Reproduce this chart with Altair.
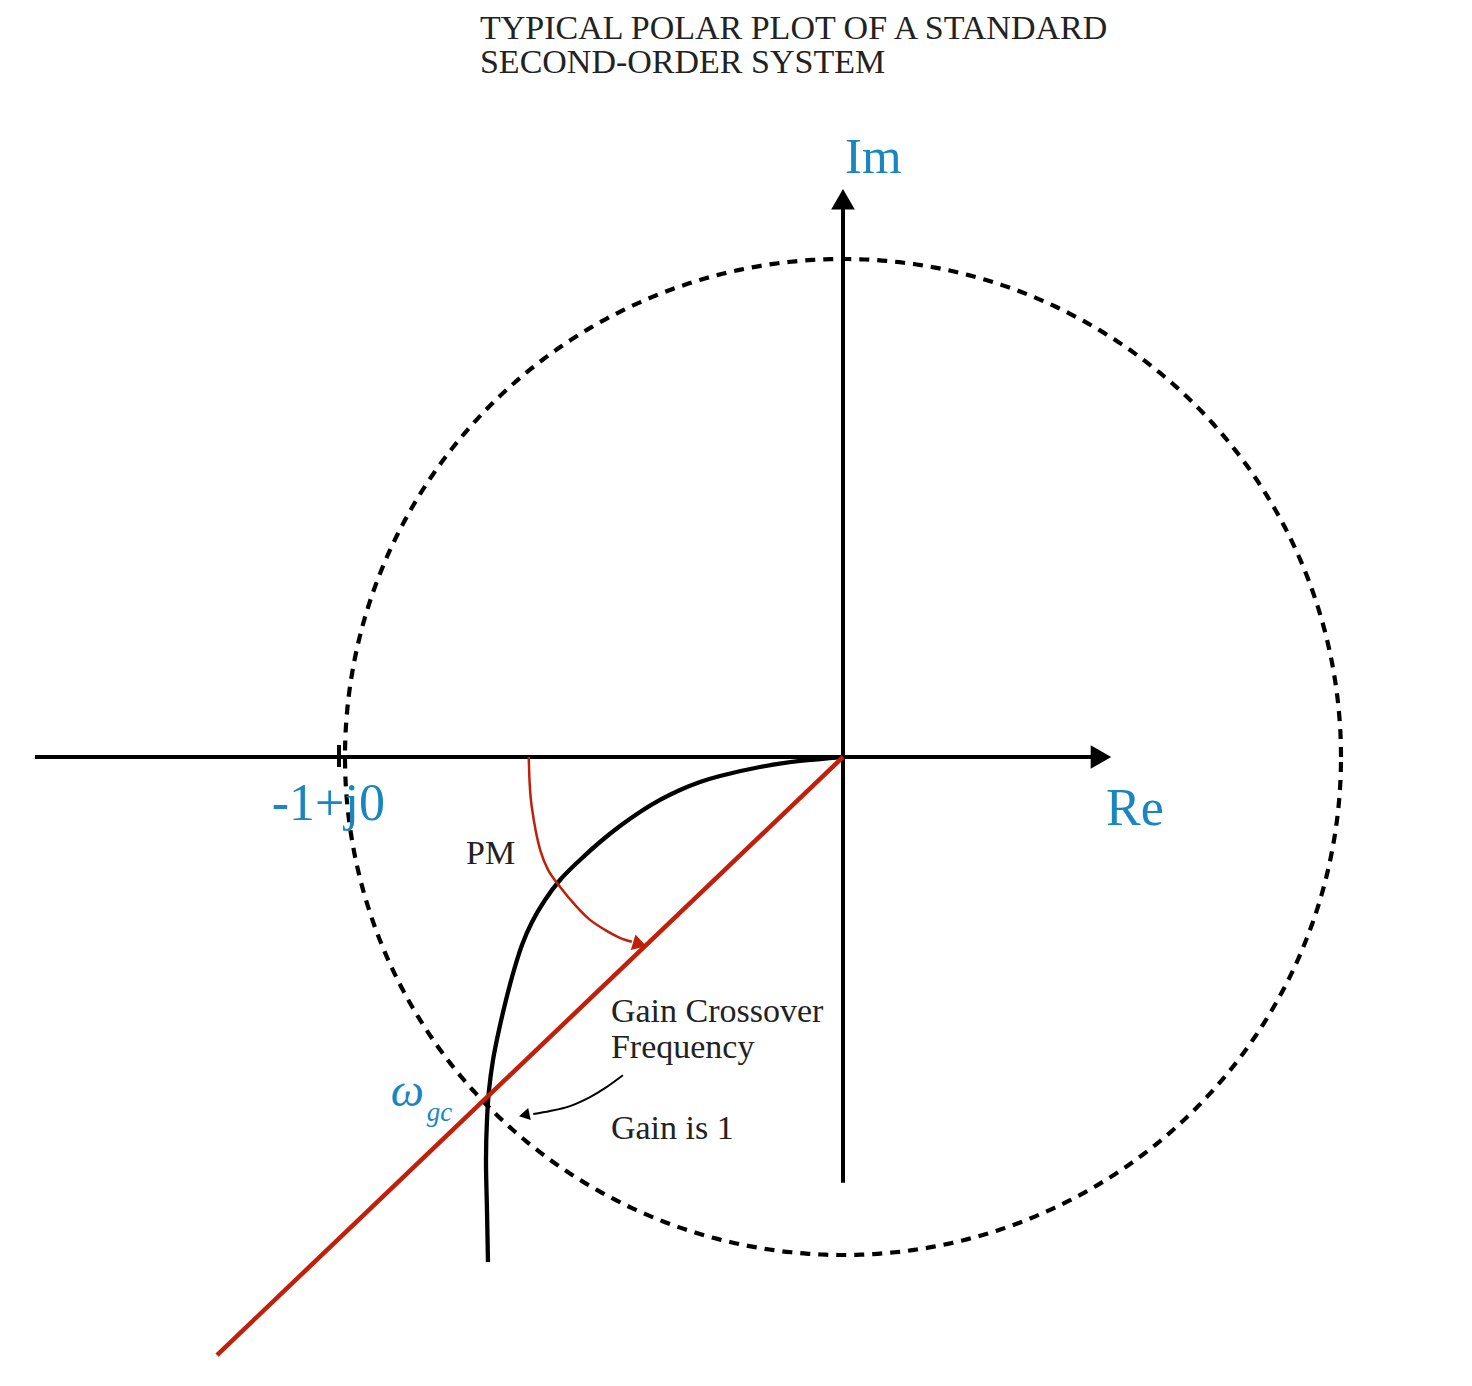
import altair as alt
import numpy as np
import pandas as pd

# ---- data (units: 1 = unit-gain circle radius) ----
curve_re = [0.0, -0.0863, -0.1667, -0.2470, -0.2871, -0.3273, -0.3675, -0.4076, -0.4478,
            -0.4880, -0.5281, -0.5683, -0.5984, -0.6245, -0.6446, -0.6606, -0.6767, -0.6908,
            -0.7028, -0.7108, -0.7149, -0.7169, -0.7149, -0.7129]
curve_im = [0.0, -0.0080, -0.0201, -0.0382, -0.0502, -0.0663, -0.0863, -0.1104, -0.1386,
            -0.1707, -0.2068, -0.2470, -0.2871, -0.3313, -0.3775, -0.4277, -0.4880, -0.5482,
            -0.6084, -0.6687, -0.7289, -0.8092, -0.9096, -1.0141]

pm_line_re = [0.0, -1.257]
pm_line_im = [0.0, -1.201]

pm_arc_re = [-0.631, -0.629, -0.625, -0.608, -0.592, -0.568, -0.538, -0.508, -0.478, -0.448, -0.424]
pm_arc_im = [0.0, -0.056, -0.100, -0.187, -0.227, -0.261, -0.297, -0.327, -0.347, -0.363, -0.371]

gc_arrow_re = [-0.442, -0.478, -0.508, -0.548, -0.588, -0.622]
gc_arrow_im = [-0.639, -0.665, -0.683, -0.701, -0.711, -0.717]

re_axis = [-1.6225, 0.505]
im_axis = [-0.855, 1.115]

X_DOMAIN = [-835 / 498, 621 / 498]
Y_DOMAIN = [-621 / 498, 749 / 498]

BLUE = "#1a86c0"
RED = "#c0200a"
FONT = "Liberation Serif"

xs = alt.Scale(domain=X_DOMAIN, nice=False, zero=False)
ys = alt.Scale(domain=Y_DOMAIN, nice=False, zero=False)


def X(f="x"):
    return alt.X(f"{f}:Q", scale=xs, axis=None)


def Y(f="y"):
    return alt.Y(f"{f}:Q", scale=ys, axis=None)


def path_df(xv, yv):
    return pd.DataFrame({"x": xv, "y": yv, "i": range(len(xv))})


def line_layer(df, color, width, dash=None, interp="linear"):
    kw = dict(color=color, strokeWidth=width, strokeCap="butt", interpolate=interp)
    if dash:
        kw["strokeDash"] = dash
    return alt.Chart(df).mark_line(**kw).encode(x=X(), y=Y(), order="i:Q")


# unit circle |G| = 1
th = np.linspace(0, 2 * np.pi, 721)
circle = line_layer(path_df(np.cos(th), np.sin(th)), "black", 4.2, [10, 8])

re_ax = line_layer(path_df(re_axis, [0, 0]), "black", 4)
im_ax = line_layer(path_df([0, 0], im_axis), "black", 4)
tick = line_layer(path_df([-1.012, -1.012], [0.024, -0.02]), "black", 4)

heads = pd.DataFrame({
    "x": [0.518, 0.0, -0.408, -0.640],
    "y": [0.0, 1.12, -0.376, -0.719],
    "shape": ["triangle-right", "triangle-up", "triangle-right", "triangle-left"],
    "angle": [0, 0, 17, -12],
    "color": ["black", "black", RED, "black"],
    "size": [560, 560, 260, 150],
})
head_layers = []
for _, r in heads.iterrows():
    head_layers.append(
        alt.Chart(pd.DataFrame([r])).mark_point(
            shape=r["shape"], filled=True, opacity=1, color=r["color"],
            angle=float(r["angle"]) % 360, size=float(r["size"]), strokeWidth=0
        ).encode(x=X(), y=Y())
    )

polar_curve = line_layer(path_df(curve_re, curve_im), "black", 4.3, interp="catmull-rom")
pm_line = line_layer(path_df(pm_line_re, pm_line_im), RED, 4.5)
pm_arc = line_layer(path_df(pm_arc_re, pm_arc_im), RED, 2.5, interp="catmull-rom")
gc_arrow = line_layer(path_df(gc_arrow_re, gc_arrow_im), "black", 2, interp="catmull-rom")

labels = pd.DataFrame([
    {"x": -0.729, "y": 1.442, "t": "TYPICAL POLAR PLOT OF A STANDARD", "c": "#222222", "s": 34, "st": "normal"},
    {"x": -0.729, "y": 1.373, "t": "SECOND-ORDER SYSTEM", "c": "#222222", "s": 34, "st": "normal"},
    {"x": 0.004, "y": 1.173, "t": "Im", "c": BLUE, "s": 51, "st": "normal"},
    {"x": 0.528, "y": -0.137, "t": "Re", "c": BLUE, "s": 52, "st": "normal"},
    {"x": -1.147, "y": -0.127, "t": "-1+j0", "c": BLUE, "s": 52, "st": "normal"},
    {"x": -0.757, "y": -0.215, "t": "PM", "c": "#222222", "s": 34, "st": "normal"},
    {"x": -0.466, "y": -0.532, "t": "Gain Crossover", "c": "#222222", "s": 34, "st": "normal"},
    {"x": -0.466, "y": -0.604, "t": "Frequency", "c": "#222222", "s": 34, "st": "normal"},
    {"x": -0.466, "y": -0.767, "t": "Gain is 1", "c": "#222222", "s": 34, "st": "normal"},
    {"x": -0.908, "y": -0.701, "t": "ω", "c": BLUE, "s": 47, "st": "italic"},
    {"x": -0.836, "y": -0.731, "t": "gc", "c": BLUE, "s": 27, "st": "italic"},
])
text_layers = []
for _, r in labels.iterrows():
    text_layers.append(
        alt.Chart(pd.DataFrame([r])).mark_text(
            align="left", baseline="alphabetic", font=FONT, fontSize=float(r["s"]),
            fontStyle=r["st"], color=r["c"]
        ).encode(x=X(), y=Y(), text="t:N")
    )

chart = alt.layer(
    circle, re_ax, im_ax, tick, polar_curve, pm_line, pm_arc, gc_arrow,
    *head_layers, *text_layers
).properties(
    width=1456, height=1370, padding=0, autosize="none"
).configure_view(stroke=None)

chart.save("out.html", embed_options={"renderer": "svg", "actions": False})
